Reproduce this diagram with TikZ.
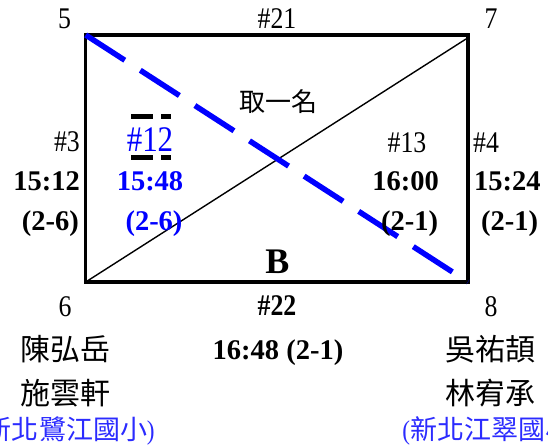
\documentclass[tikz,border=0pt]{standalone}
\usepackage{fontspec}
\setmainfont{Liberation Serif}
\newfontfamily\narrowfont[FakeStretch=0.86]{Liberation Serif}
\newfontfamily\cjk{Noto Sans CJK TC}
\definecolor{seedc}{HTML}{0000FF}
\definecolor{schoolc}{HTML}{2B2BFF}
\tikzset{
  lbl/.style={inner sep=0pt,anchor=base,font=\fontsize{30}{32}\selectfont\narrowfont},
  tm/.style={inner sep=0pt,anchor=base,font=\fontsize{28.5}{30}\selectfont\bfseries},
  nm/.style={inner sep=0pt,font=\fontsize{30}{32}\selectfont\cjk},
}
\begin{document}
\begin{tikzpicture}[x=1pt,y=-1pt]
  \useasboundingbox (0,0) rectangle (548,447);
  % court corners
  \coordinate (c5) at (85.7,35);
  \coordinate (c7) at (468,35);
  \coordinate (c6) at (85.7,282);
  \coordinate (c8) at (468,282);
  \coordinate (c7i) at (466,39);
  \draw[line width=3.3pt] (c5) rectangle (c8);
  \draw[line width=1.4pt] (c6) -- (c7i);
  \draw[seedc,line width=5.5pt,dash pattern=on 46.5pt off 18.5pt] (c5) -- (c8);
  % corner numbers and top/bottom matches
  \foreach \n/\x/\y in {5/64.5/28,7/491/28,6/65/316,8/491/316}
    \node[lbl] (p\n) at (\x,\y) {\n};
  \node[lbl] (m21) at (277,28) {\#21};
  \node[lbl,font=\fontsize{30}{32}\selectfont\narrowfont\bfseries] (m22) at (277,315) {\#22};
  \node[nm,font=\fontsize{26}{28}\selectfont\cjk] (grp) at (278,102) {取一名};
  \node[tm,font=\fontsize{36}{38}\selectfont\bfseries] (grpB) at (277.5,273) {B};
  % left and right matches
  \node[lbl,anchor=base east] (m3) at (80,151) {\#3};
  \node[tm,anchor=base east] (t3) at (80,190) {15:12};
  \node[tm,anchor=base east] (s3) at (79,230) {(2-6)};
  \node[lbl,anchor=base west] (m4) at (473,152) {\#4};
  \node[tm,anchor=base west] (t4) at (474,190) {15:24};
  \node[tm,anchor=base west] (s4) at (481,230) {(2-1)};
  % inner matches
  \node[lbl,seedc,font=\fontsize{36}{38}\selectfont\narrowfont] (m12) at (150,151) {\#12};
  \node[tm,seedc] (t12) at (150,190) {15:48};
  \node[tm,seedc] (s12) at (154,230) {(2-6)};
  \draw[line width=5pt,dash pattern=on 22pt off 8pt] (131,116.5) -- (171,116.5);
  \draw[line width=5pt,dash pattern=on 22pt off 8pt] (131,157.5) -- (171,157.5);
  \node[lbl] (m13) at (407,152) {\#13};
  \node[tm] (t13) at (405.5,190) {16:00};
  \node[tm] (s13) at (409.5,230) {(2-1)};
  \node[tm] (t22) at (278,359) {16:48 (2-1)};
  % players
  \node[nm] (a1) at (65.5,349) {陳弘岳};
  \node[nm] (a2) at (65.5,393) {施雲軒};
  \node[nm,schoolc,font=\fontsize{27}{29}\selectfont\cjk] (a3) at (66,431) {{\narrowfont(}新北鷺江國小{\narrowfont)}};
  \node[nm] (b1) at (490,349) {吳祐頡};
  \node[nm] (b2) at (490,393) {林宥承};
  \node[nm,schoolc,font=\fontsize{27}{29}\selectfont\cjk] (b3) at (491,431) {{\narrowfont(}新北江翠國小{\narrowfont)}};
\end{tikzpicture}
\end{document}
